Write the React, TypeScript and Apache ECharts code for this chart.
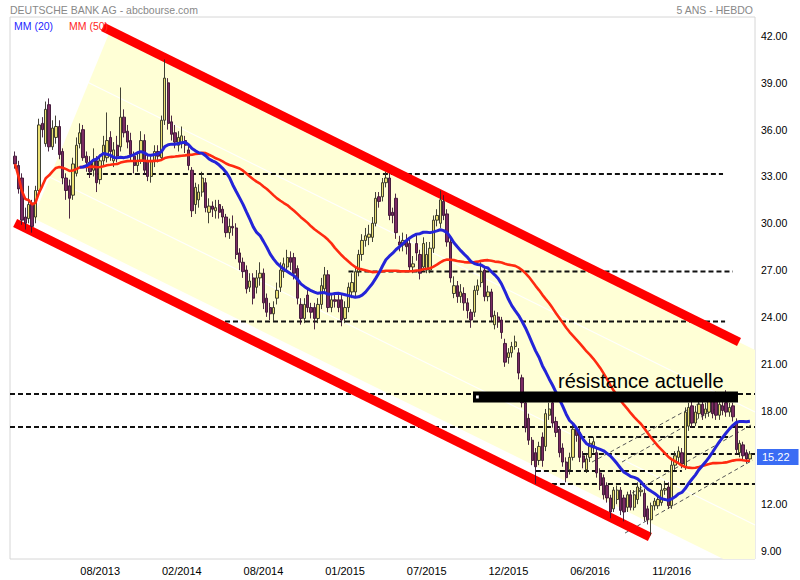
import React, { useEffect, useRef } from 'react';
import * as echarts from 'echarts';

const FONT = '"Liberation Sans", Arial, sans-serif';
const FIRST_WEEK = Date.UTC(2013, 2, 8);
const WEEK_MS = 7 * 86400000;

// weekly candles: [open, close, low, high]
const CANDLES: number[][] = [
  [34.3, 33.8, 33.5, 34.6], [33.7, 32.2, 31.9, 34.0], [32.9, 30.2, 29.9, 33.2], [30.4, 30.0, 29.6, 31.0],
  [30.3, 31.2, 30.0, 32.4], [31.3, 29.8, 29.4, 31.5], [30.4, 32.1, 30.0, 32.4], [32.1, 36.3, 31.8, 36.7],
  [36.4, 36.0, 35.5, 36.8], [35.1, 37.3, 34.9, 37.8], [37.6, 34.9, 34.6, 38.0], [34.9, 36.1, 34.7, 36.6],
  [35.5, 36.2, 35.1, 36.9], [36.2, 34.4, 34.1, 36.6], [34.6, 32.9, 32.5, 34.8], [32.9, 32.1, 31.5, 33.2],
  [32.4, 31.6, 30.3, 32.8], [31.8, 33.8, 31.5, 34.2], [33.2, 35.0, 33.0, 35.5], [35.1, 35.8, 34.8, 36.4],
  [36.0, 34.2, 34.0, 36.3], [34.3, 33.9, 33.3, 34.6], [33.9, 33.3, 32.9, 34.3], [33.4, 34.0, 33.0, 34.8],
  [34.0, 32.6, 32.0, 34.3], [32.8, 34.0, 32.5, 34.4], [34.0, 35.0, 33.7, 35.6], [34.2, 35.3, 33.9, 37.1],
  [35.5, 34.6, 34.0, 35.9], [34.0, 34.7, 33.6, 35.2], [35.0, 34.3, 33.9, 35.6], [34.9, 36.8, 34.6, 38.7],
  [36.8, 35.8, 35.5, 37.3], [35.9, 35.2, 34.8, 36.3], [35.3, 34.4, 34.0, 35.8], [34.3, 33.7, 33.2, 34.6],
  [33.7, 34.0, 33.3, 34.5], [34.0, 35.3, 33.8, 35.9], [35.3, 33.4, 33.1, 35.7], [34.0, 33.0, 32.7, 34.4],
  [33.0, 34.0, 32.6, 34.3], [34.0, 34.6, 33.6, 35.0], [34.6, 34.3, 33.9, 35.0], [34.2, 36.6, 34.0, 36.9],
  [36.6, 39.3, 36.3, 40.5], [39.0, 36.4, 36.0, 39.3], [36.5, 35.7, 35.3, 36.9], [35.8, 35.2, 34.8, 36.3],
  [35.0, 35.5, 34.6, 35.9], [35.1, 35.6, 34.8, 36.2], [35.3, 35.0, 34.5, 35.6], [34.7, 33.7, 33.4, 35.0],
  [33.4, 30.8, 30.4, 33.6], [31.2, 32.3, 30.6, 32.6], [31.5, 32.0, 31.0, 32.5], [32.0, 32.9, 31.7, 33.3],
  [32.6, 31.0, 30.7, 32.9], [30.7, 31.1, 30.0, 31.6], [31.1, 30.9, 30.4, 31.4], [30.8, 31.0, 30.3, 31.5],
  [31.2, 30.7, 30.3, 31.5], [30.9, 30.4, 30.0, 31.1], [30.4, 29.4, 29.1, 30.6], [29.4, 29.8, 29.0, 30.3],
  [29.8, 29.7, 29.2, 30.5], [29.7, 28.0, 27.7, 30.0], [28.1, 27.5, 27.0, 28.4], [27.5, 26.9, 26.5, 27.8],
  [27.0, 25.8, 25.5, 27.3], [25.9, 26.3, 25.6, 26.8], [26.5, 25.2, 24.8, 26.8], [25.9, 26.5, 25.5, 27.0],
  [26.5, 26.8, 26.0, 27.5], [26.8, 24.9, 24.5, 27.1], [25.2, 24.3, 24.0, 25.5], [24.6, 24.2, 23.8, 24.9],
  [24.2, 24.6, 23.7, 25.0], [25.2, 25.7, 24.8, 26.2], [25.9, 27.0, 25.6, 27.5], [26.9, 27.4, 26.5, 27.8],
  [27.2, 27.8, 26.9, 28.3], [27.8, 27.5, 27.0, 28.2], [27.8, 26.8, 26.4, 28.1], [27.1, 25.2, 24.8, 27.3],
  [24.8, 23.9, 23.5, 25.2], [23.9, 24.8, 23.6, 25.2], [25.4, 24.6, 24.3, 25.8], [24.6, 24.3, 23.9, 24.9],
  [24.6, 23.9, 23.2, 24.9], [23.9, 24.8, 23.6, 25.2], [24.8, 26.0, 24.5, 26.5], [25.8, 26.7, 25.5, 27.2],
  [26.7, 24.6, 24.3, 27.0], [24.6, 25.1, 24.3, 25.4], [25.1, 25.0, 24.6, 25.4], [25.1, 24.6, 24.3, 25.4],
  [25.1, 23.8, 23.4, 25.4], [23.9, 24.6, 23.6, 25.0], [24.6, 25.9, 24.3, 26.2], [25.6, 26.2, 25.2, 26.8],
  [25.6, 26.9, 25.3, 27.2], [26.9, 28.0, 26.6, 28.3], [28.0, 28.9, 27.6, 29.3], [28.9, 29.2, 28.5, 29.7],
  [29.1, 29.3, 28.6, 29.9], [29.1, 30.0, 28.8, 30.4], [30.0, 31.6, 29.8, 32.0], [31.7, 31.4, 31.0, 32.0],
  [31.7, 32.6, 31.4, 32.9], [32.6, 32.9, 32.3, 33.3], [32.9, 30.5, 30.2, 33.2], [30.7, 30.5, 30.0, 31.0],
  [31.6, 29.4, 29.0, 31.9], [28.8, 28.6, 28.2, 29.2], [28.6, 28.9, 28.2, 29.4], [28.9, 28.5, 28.0, 29.3],
  [28.7, 27.2, 26.9, 29.0], [27.2, 27.4, 26.8, 27.9], [28.7, 28.1, 27.6, 29.3], [28.0, 26.8, 26.4, 28.3],
  [27.2, 28.7, 26.9, 29.1], [27.0, 28.0, 26.8, 28.8], [27.0, 28.4, 26.8, 28.8], [28.4, 30.2, 28.1, 30.5],
  [30.2, 30.5, 29.8, 30.9], [30.0, 31.5, 29.7, 32.1], [31.4, 30.5, 30.2, 31.8], [30.6, 28.8, 28.5, 30.9],
  [28.8, 26.5, 26.2, 29.1], [25.5, 26.0, 25.2, 26.6], [26.0, 25.3, 24.9, 26.3], [25.3, 25.6, 24.9, 26.1],
  [25.5, 24.9, 24.4, 25.9], [24.9, 24.4, 23.9, 25.2], [24.3, 23.8, 23.3, 24.5], [24.3, 25.7, 24.0, 26.0],
  [25.7, 26.0, 25.4, 26.4], [26.2, 26.9, 25.9, 27.5], [27.0, 25.3, 25.0, 27.2], [25.3, 25.6, 25.0, 26.0],
  [25.6, 24.0, 23.7, 25.8], [23.5, 24.1, 23.2, 24.4], [24.0, 23.7, 23.3, 24.3], [23.8, 23.0, 22.6, 24.0],
  [22.3, 21.1, 20.8, 22.6], [21.4, 21.7, 21.0, 22.0], [21.7, 22.1, 21.4, 22.4], [22.1, 22.4, 21.9, 22.8],
  [21.7, 20.4, 20.0, 22.0], [20.1, 18.5, 18.2, 20.3], [18.5, 16.9, 16.6, 18.7], [17.5, 16.1, 15.8, 17.8],
  [16.1, 14.8, 14.5, 16.3], [15.3, 14.4, 13.3, 15.6], [14.8, 15.7, 14.5, 16.0], [16.3, 14.8, 14.4, 16.6],
  [15.7, 17.8, 15.4, 18.1], [17.7, 18.1, 17.4, 18.5], [18.5, 17.2, 16.9, 19.0], [17.3, 16.6, 16.3, 17.6],
  [16.8, 15.3, 15.0, 17.0], [15.6, 14.7, 14.4, 15.9], [14.7, 13.7, 13.4, 15.0], [14.2, 15.0, 13.9, 15.3],
  [15.0, 16.8, 14.8, 17.1], [16.8, 16.4, 16.0, 17.0], [16.6, 15.0, 14.7, 16.9], [15.1, 14.7, 14.3, 15.4],
  [14.2, 14.9, 14.0, 15.2], [15.0, 15.9, 14.7, 16.2], [15.6, 16.0, 15.3, 16.3], [15.3, 14.0, 13.7, 15.6],
  [14.0, 13.2, 12.9, 14.3], [13.7, 12.6, 12.3, 13.9], [13.2, 12.4, 12.1, 13.4], [12.4, 11.5, 11.1, 12.6],
  [11.7, 12.9, 11.5, 13.1], [12.3, 12.9, 12.0, 13.2], [12.9, 11.6, 11.3, 13.1], [12.4, 11.5, 10.9, 12.6],
  [11.8, 12.6, 11.5, 12.8], [12.6, 11.8, 11.6, 12.9], [11.8, 12.6, 11.6, 12.9], [12.3, 13.1, 12.0, 13.4],
  [12.8, 12.9, 12.5, 13.2], [12.7, 11.2, 10.9, 13.0], [11.7, 11.0, 10.7, 11.9], [11.0, 11.9, 10.0, 12.1],
  [11.9, 12.2, 11.6, 12.4], [11.9, 12.3, 11.7, 12.6], [12.1, 12.9, 11.9, 13.3], [12.9, 13.0, 12.6, 13.5],
  [13.1, 11.9, 11.7, 13.4], [11.9, 14.5, 11.7, 14.9], [14.5, 15.1, 14.2, 15.4], [15.0, 15.4, 14.7, 15.7],
  [15.3, 14.6, 14.3, 15.6], [14.4, 17.9, 14.2, 18.2], [17.0, 18.2, 16.7, 18.5], [18.3, 17.2, 16.9, 18.6],
  [17.2, 17.9, 17.0, 18.3], [17.8, 18.4, 17.5, 18.8], [18.4, 17.7, 17.4, 18.9], [17.8, 18.1, 17.5, 18.5],
  [17.9, 18.6, 17.6, 19.0], [18.6, 17.8, 17.5, 18.9], [18.6, 17.7, 17.4, 19.2], [17.7, 18.4, 17.4, 18.7],
  [18.3, 18.0, 17.7, 18.6], [18.5, 17.9, 17.6, 19.3], [17.9, 18.2, 17.6, 18.5], [18.3, 17.6, 17.3, 18.5],
  [17.2, 15.5, 15.2, 17.5], [15.3, 15.9, 15.0, 16.1], [15.8, 15.1, 14.8, 16.0], [15.3, 14.9, 14.6, 15.5],
  [14.9, 15.22, 14.7, 15.4],
];

const TICK_INDEX = [25, 49, 73, 97, 121, 145, 169, 193];
const Y_TICKS = [9, 12, 18, 21, 24, 27, 30, 33, 36, 39, 42];
const Y_MIN = 8.487;
const Y_MAX = 43.217;
const LAST_PRICE = 15.22;

// annotation shapes in (bar index, price) units: [i1, v1, i2, v2]
const CHANNEL_LINES = [
  [25.84, 42.58, 212.8, 22.39],
  [0, 30.02, 186.6, 9.9],
];
const YELLOW_ZONE = [
  [27.9, 42.32], [5.26, 30.34], [208.2, Y_MIN], [217.5, Y_MIN], [217.5, 21.88],
];
const GUIDE_LINES = [
  [20.6, 39.12, 217.5, 17.91],
  [0, 34.05, 217.5, 10.67],
];
const LEVELS = [
  [21.1, 33.16, 208.1, 33.16],
  [98.0, 26.91, 211.0, 26.91],
  [61.7, 23.71, 208.7, 23.71],
  [-1.5, 19.06, 217.5, 19.06],
  [-1.5, 16.95, 217.5, 16.95],
  [166.1, 16.3, 209.6, 16.3],
  [166.9, 15.22, 217.5, 15.22],
  [153.1, 14.13, 196.0, 14.13],
  [153.1, 13.29, 217.5, 13.29],
];
const RISING_LINES = [
  [169.6, 14.7, 207.2, 19.19],
  [178.4, 14.7, 212.5, 18.93],
  [177.8, 12.27, 216.9, 17.14],
  [179.3, 10.15, 216.9, 14.83],
];
const RESISTANCE_BAR = [[134.6, 18.87, 212.5, 18.87]];
const RESISTANCE_MARK = [[135.5, 18.87, 136.3, 18.87]];
const RESISTANCE_TEXT = [[159.6, 19.89]];

const closes = CANDLES.map((c) => c[1]);
function movingAverage(n: number, partial: boolean) {
  return closes.map((_, i) => {
    if (i < n - 1 && !partial) return '-';
    const s = Math.max(0, i - n + 1);
    let sum = 0;
    for (let k = s; k <= i; k++) sum += closes[k];
    return +(sum / (i - s + 1)).toFixed(3);
  });
}

function segmentSeries(data: number[][], style: any, z: number) {
  return {
    type: 'custom',
    xAxisIndex: 1,
    yAxisIndex: 0,
    z,
    silent: true,
    data,
    encode: { x: [0, 2], y: [1, 3] },
    renderItem: (_p: any, api: any) => {
      const a = api.coord([api.value(0), api.value(1)]);
      const b = api.coord([api.value(2), api.value(3)]);
      return {
        type: 'line',
        shape: { x1: a[0], y1: a[1], x2: b[0], y2: b[1] },
        style: { fill: 'none', ...style },
      };
    },
  };
}

export default function App() {
  const ref = useRef<HTMLDivElement>(null);
  useEffect(() => {
    const chart = echarts.init(ref.current!, undefined, { renderer: 'svg' });
    const categories = [
      '',
      ...CANDLES.map((_, i) => new Date(FIRST_WEEK + i * WEEK_MS).toISOString().slice(0, 10)),
      '',
    ];
    const ma20 = ['-', ...movingAverage(20, false)];
    const ma50 = ['-', ...movingAverage(50, true)];

    chart.setOption({
      animation: false,
      backgroundColor: '#fff',
      grid: {
        left: 10, top: 17, width: 745, height: 542,
        show: true, borderColor: '#d6d6d6', borderWidth: 1, backgroundColor: '#fff',
      },
      xAxis: [
        {
          type: 'category',
          data: categories,
          boundaryGap: true,
          axisLine: { show: false },
          axisTick: { show: false },
          splitLine: { show: false },
          axisLabel: {
            interval: (index: number) => TICK_INDEX.includes(index - 1),
            formatter: (v: string) => (v ? `${v.slice(5, 7)}/${v.slice(0, 4)}` : ''),
            color: '#000',
            fontSize: 11,
            fontFamily: FONT,
            margin: 6,
          },
        },
        { type: 'value', min: -1.5, max: 217.5, show: false, splitLine: { show: false } },
      ],
      yAxis: {
        type: 'value',
        position: 'right',
        min: Y_MIN,
        max: Y_MAX,
        axisLine: { show: false },
        axisTick: { show: false },
        splitLine: { show: false },
        axisLabel: {
          customValues: Y_TICKS,
          formatter: (v: number) => v.toFixed(2),
          color: '#000',
          fontSize: 10.5,
          fontFamily: FONT,
          margin: 6,
        },
      },
      graphic: [
        { type: 'text', x: 10, y: 9.5, style: { text: 'DEUTSCHE BANK AG - abcbourse.com', fill: '#888', font: `10.5px ${FONT}`, textAlign: 'left', textVerticalAlign: 'middle', align: 'left', verticalAlign: 'middle' } },
        { type: 'text', x: 753, y: 9.5, style: { text: '5 ANS - HEBDO', fill: '#888', font: `10.5px ${FONT}`, textAlign: 'right', textVerticalAlign: 'middle', align: 'right', verticalAlign: 'middle' } },
        { type: 'text', x: 14, y: 25.5, z: 100, style: { text: 'MM (20)', fill: '#1f1fff', font: `10.5px ${FONT}`, textAlign: 'left', textVerticalAlign: 'middle', align: 'left', verticalAlign: 'middle' } },
        { type: 'text', x: 69, y: 25.5, z: 100, style: { text: 'MM (50)', fill: '#ff2626', font: `10.5px ${FONT}`, textAlign: 'left', textVerticalAlign: 'middle', align: 'left', verticalAlign: 'middle' } },
      ],
      series: [
        {
          type: 'custom',
          xAxisIndex: 1,
          yAxisIndex: 0,
          z: 0,
          silent: true,
          data: [[0, 20]],
          encode: { x: 0, y: 1 },
          renderItem: (_p: any, api: any) => ({
            type: 'polygon',
            shape: { points: YELLOW_ZONE.map((pt) => api.coord(pt)) },
            style: { fill: '#ffffd6' },
          }),
        },
        segmentSeries(GUIDE_LINES, { stroke: 'rgba(255,255,255,0.95)', lineWidth: 1.2 }, 1),
        segmentSeries(LEVELS, { stroke: '#111', lineWidth: 2, lineDash: [5, 3] }, 1),
        segmentSeries(RISING_LINES, { stroke: '#555', lineWidth: 1, lineDash: [4, 3] }, 1),
        segmentSeries(CHANNEL_LINES, { stroke: '#ff0000', lineWidth: 9, lineCap: 'butt' }, 2),
        {
          type: 'candlestick',
          xAxisIndex: 0,
          yAxisIndex: 0,
          z: 3,
          barWidth: 2.8,
          data: [['-', '-', '-', '-'], ...CANDLES],
          itemStyle: {
            color: '#ebe175',
            color0: '#7b2b63',
            borderColor: '#2e2e22',
            borderColor0: '#3a1232',
            borderWidth: 0.9,
          },
          markLine: {
            silent: true,
            symbol: ['none', 'none'],
            lineStyle: { color: 'rgba(0,0,0,0)', width: 0 },
            label: {
              show: true,
              position: 'end',
              formatter: LAST_PRICE.toFixed(2),
              color: '#fff',
              backgroundColor: '#3a6cf4',
              padding: [3, 9, 2, 5],
              fontSize: 11,
              fontFamily: FONT,
              distance: 2,
              offset: [0, 3],
            },
            data: [{ yAxis: LAST_PRICE }],
          },
        },
        {
          type: 'line', name: 'MM (50)', xAxisIndex: 0, yAxisIndex: 0, z: 4,
          data: ma50, symbol: 'none', showSymbol: false,
          lineStyle: { color: '#ff2a10', width: 2.6 },
        },
        {
          type: 'line', name: 'MM (20)', xAxisIndex: 0, yAxisIndex: 0, z: 5,
          data: ma20, symbol: 'none', showSymbol: false,
          lineStyle: { color: '#2424d8', width: 3 },
        },
        segmentSeries(RESISTANCE_BAR, { stroke: '#000', lineWidth: 11, lineCap: 'butt' }, 6),
        segmentSeries(RESISTANCE_MARK, { stroke: '#fff', lineWidth: 3, lineCap: 'butt' }, 7),
        {
          type: 'custom',
          xAxisIndex: 1,
          yAxisIndex: 0,
          z: 8,
          silent: true,
          data: RESISTANCE_TEXT,
          encode: { x: 0, y: 1 },
          renderItem: (_p: any, api: any) => {
            const p = api.coord([api.value(0), api.value(1)]);
            return {
              type: 'text',
              x: p[0],
              y: p[1],
              style: {
                text: 'résistance actuelle',
                fill: '#000',
                font: `20px ${FONT}`,
                textAlign: 'left', textVerticalAlign: 'middle',
                align: 'left', verticalAlign: 'middle',
              },
            };
          },
        },
      ],
    });
    return () => chart.dispose();
  }, []);
  return (
    <div
      ref={ref}
      style={{ position: 'fixed', left: 0, top: 0, width: 800, height: 580, background: '#fff' }}
    />
  );
}
